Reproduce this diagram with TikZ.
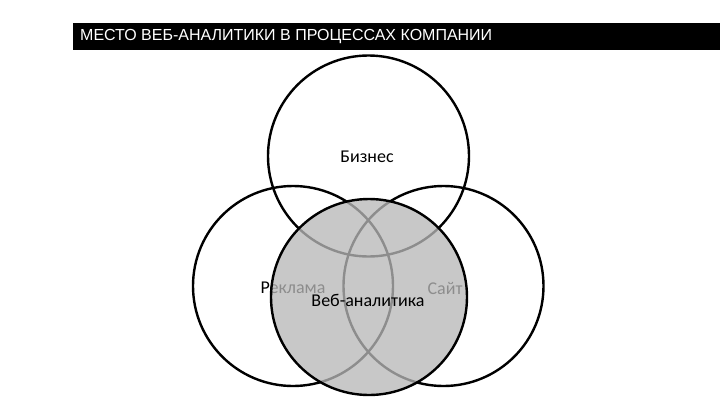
\documentclass[tikz,border=0pt]{standalone}
\usepackage{fontspec}
\setmainfont{Carlito}
\newfontfamily\titlefont{Liberation Sans}
\definecolor{venngray}{gray}{0.72}
\begin{document}
\begin{tikzpicture}[x=1pt,y=-1pt,
  ring/.style={circle,draw=black,line width=2.4pt,inner sep=0pt,minimum size=#1},
  core/.style={ring=#1,fill=venngray,fill opacity=0.77},
  lbl/.style={font=\fontsize{18}{20}\selectfont,text=black,inner sep=0pt},
  titlebar/.style={fill=black,draw=none},
  titletext/.style={text=white,font=\titlefont\fontsize{16}{18}\selectfont,anchor=west,inner sep=0pt}]
\useasboundingbox (0,0) rectangle (720,405);
\fill[white] (0,0) rectangle (720,405);
\node[titlebar,minimum width=647pt,minimum height=27pt,anchor=north west,inner sep=0pt] (bar) at (73,23) {};
\node[titletext] (title) at (80,37) {МЕСТО ВЕБ-АНАЛИТИКИ В ПРОЦЕССАХ КОМПАНИИ};
\node[ring=201pt] (biz) at (368.5,156) {};
\node[ring=200pt] (adv) at (293,286) {};
\node[ring=200pt] (site) at (443.5,286) {};
\node[lbl] (bizt) at (367,157) {Бизнес};
\node[lbl] (advt) at (293,288) {Реклама};
\node[lbl] (sitet) at (445,288) {Сайт};
\node[core=196pt] (web) at (369,297) {};
\node[lbl] (webt) at (368,300) {Веб-аналитика};
\end{tikzpicture}
\end{document}
